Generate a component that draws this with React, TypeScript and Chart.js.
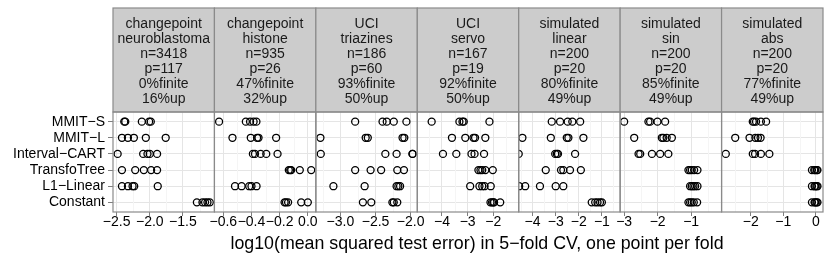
import { useEffect, useRef } from 'react';
import { Chart, registerables } from 'chart.js';

Chart.register(...registerables);

const FONT = '"Liberation Sans", Arial, Helvetica, sans-serif';

// Categories (rows, top to bottom)
const methods = ['MMIT−S', 'MMIT−L', 'Interval−CART', 'TransfoTree', 'L1−Linear', 'Constant'];

// Facet strip info
const stripSource = ['changepoint', 'changepoint', 'UCI', 'UCI', 'simulated', 'simulated', 'simulated'];
const stripName = ['neuroblastoma', 'histone', 'triazines', 'servo', 'linear', 'sin', 'abs'];
const nObs = [3418, 935, 186, 167, 200, 200, 200];
const nFeat = [117, 26, 60, 19, 20, 20, 20];
const pctFinite = [0, 47, 93, 92, 80, 85, 77];
const pctUp = [16, 32, 50, 50, 49, 49, 49];

// log10(MSE) per fold, one row per method
const neuroblastoma = [
  [-2.385, -2.37, -2.12, -2.01, -1.985],
  [-2.42, -2.33, -2.24, -2.06, -1.76],
  [-2.485, -2.1, -2.035, -2.0, -1.89],
  [-2.42, -2.22, -2.09, -1.98, -1.89],
  [-2.42, -2.33, -2.26, -2.235, -1.88],
  [-1.29, -1.206, -1.166, -1.13, -1.095],
];
const histone = [
  [-0.63, -0.44, -0.41, -0.385, -0.365],
  [-0.535, -0.405, -0.36, -0.35, -0.225],
  [-0.39, -0.375, -0.335, -0.295, -0.215],
  [-0.135, -0.125, -0.118, -0.057, 0.024],
  [-0.517, -0.47, -0.416, -0.4, -0.364],
  [-0.165, -0.155, -0.14, -0.047, 0.0],
];
const triazines = [
  [-2.79, -2.4, -2.34, -2.24, -2.06],
  [-3.285, -2.64, -2.61, -2.115, -2.09],
  [-3.28, -2.36, -2.2, -1.975, -1.97],
  [-2.79, -2.57, -2.42, -2.19, -2.095],
  [-3.1, -2.655, -2.2, -2.175, -2.15],
  [-2.68, -2.56, -2.26, -2.24, -2.19],
];
const servo = [
  [-4.4, -3.32, -3.2, -3.15, -2.15],
  [-3.61, -3.09, -2.77, -2.71, -2.31],
  [-3.96, -3.44, -2.85, -2.73, -2.36],
  [-2.58, -2.5, -2.43, -2.31, -2.02],
  [-2.9, -2.54, -2.43, -2.34, -2.1],
  [-2.11, -2.05, -2.0, -1.97, -1.73],
];
const linear = [
  [-3.17, -2.81, -2.48, -2.28, -1.94],
  [-4.44, -3.21, -2.52, -2.45, -1.8],
  [-4.6, -3.02, -2.95, -2.9, -2.16],
  [-3.43, -2.77, -2.67, -2.38, -1.91],
  [-4.58, -4.32, -3.68, -3.0, -2.67],
  [-1.44, -1.29, -1.19, -1.08, -1.0],
];
const sin = [
  [-3.0, -2.275, -2.224, -2.006, -1.776],
  [-2.7, -1.875, -1.83, -1.73, -1.575],
  [-2.57, -2.52, -2.17, -1.925, -1.68],
  [-1.08, -1.03, -0.98, -0.91, -0.81],
  [-1.03, -0.98, -0.93, -0.88, -0.81],
  [-1.08, -1.03, -0.98, -0.92, -0.82],
];
const abs = [
  [-1.94, -1.9, -1.84, -1.69, -1.53],
  [-2.48, -2.04, -1.86, -1.78, -1.7],
  [-2.77, -1.94, -1.87, -1.69, -1.43],
  [-0.12, -0.05, -0.02, 0.03, 0.05],
  [-0.12, -0.04, -0.02, 0.02, 0.05],
  [-0.12, -0.04, -0.02, 0.02, 0.05],
];

const panelData = [neuroblastoma, histone, triazines, servo, linear, sin, abs];

// Per-panel x axis limits and ticks
const xMin = [-2.555, -0.663, -3.35, -4.96, -4.6, -3.12, -2.9];
const xMax = [-1.025, 0.057, -1.905, -1.01, -0.21, -0.09, 0.22];
const xTicks = [
  [-2.5, -2.0, -1.5],
  [-0.6, -0.4, -0.2, 0.0],
  [-3.0, -2.5, -2.0],
  [-4, -3, -2],
  [-4, -3, -2, -1],
  [-3, -2, -1],
  [-2, -1, 0],
];
const xTickLabels = [
  ['−2.5', '−2.0', '−1.5'],
  ['−0.6', '−0.4', '−0.2', '0.0'],
  ['−3.0', '−2.5', '−2.0'],
  ['−4', '−3', '−2'],
  ['−4', '−3', '−2', '−1'],
  ['−3', '−2', '−1'],
  ['−2', '−1', '0'],
];

const xTitle = 'log10(mean squared test error) in 5−fold CV, one point per fold';

const facetPlugin = {
  id: 'facets',
  beforeDatasetsDraw(chart: any) {
    const { ctx, chartArea } = chart;
    ctx.save();
    ctx.strokeStyle = '#F5F5F5';
    ctx.lineWidth = 1;
    panelData.forEach((_, i) => {
      const sc = chart.scales['x' + i];
      const t = xTicks[i];
      const step = t[1] - t[0];
      const minors: number[] = [];
      for (let k = -1; k < t.length; k++) minors.push(t[0] + step * (k + 0.5));
      minors.forEach((v) => {
        if (v <= xMin[i] || v >= xMax[i]) return;
        const px = Math.round(sc.getPixelForValue(v)) + 0.5;
        ctx.beginPath();
        ctx.moveTo(px, chartArea.top);
        ctx.lineTo(px, chartArea.bottom);
        ctx.stroke();
      });
    });
    ctx.restore();
  },
  beforeDatasetDraw(chart: any, args: any) {
    const { ctx, chartArea } = chart;
    const xs = args.meta.xScale;
    ctx.save();
    ctx.beginPath();
    ctx.rect(xs.left, chartArea.top, xs.width, chartArea.bottom - chartArea.top);
    ctx.clip();
  },
  afterDatasetDraw(chart: any) {
    chart.ctx.restore();
  },
  afterDraw(chart: any) {
    const { ctx, chartArea } = chart;
    ctx.save();
    const stripTop = 8;
    panelData.forEach((_, i) => {
      const sc = chart.scales['x' + i];
      const l = sc.left;
      const w = sc.width;
      // strip
      ctx.fillStyle = '#CCCCCC';
      ctx.fillRect(l, stripTop, w, chartArea.top - stripTop);
      ctx.strokeStyle = '#8A8A8A';
      ctx.lineWidth = 1.2;
      ctx.strokeRect(l, stripTop, w, chartArea.top - stripTop);
      // panel border
      ctx.strokeRect(l, chartArea.top, w, chartArea.bottom - chartArea.top);
      // strip text
      ctx.fillStyle = '#1A1A1A';
      ctx.font = '14px ' + FONT;
      ctx.textAlign = 'center';
      ctx.textBaseline = 'middle';
      const lines = [
        stripSource[i],
        stripName[i],
        'n=' + nObs[i],
        'p=' + nFeat[i],
        pctFinite[i] + '%finite',
        pctUp[i] + '%up',
      ];
      const cx = l + w / 2;
      lines.forEach((s, k) => ctx.fillText(s, cx, 24 + k * 15));
    });
    // axis title
    ctx.fillStyle = '#000';
    ctx.font = '17.8px ' + FONT;
    ctx.textAlign = 'center';
    ctx.textBaseline = 'middle';
    ctx.fillText(xTitle, 477, 244);
    ctx.restore();
  },
};

export default function App() {
  const ref = useRef<HTMLCanvasElement | null>(null);

  useEffect(() => {
    if (!ref.current) return;
    const scales: any = {
      y: {
        type: 'linear',
        position: 'left',
        min: 0.4,
        max: 6.6,
        reverse: true,
        afterBuildTicks: (s: any) => {
          s.ticks = methods.map((_, k) => ({ value: k + 1 }));
        },
        afterFit: (s: any) => {
          s.width = 113;
          s.paddingTop = 0;
          s.paddingBottom = 0;
        },
        ticks: {
          callback: (v: any) => methods[Math.round(v) - 1],
          font: { size: 14, family: FONT },
          color: '#000',
          padding: 3,
          autoSkip: false,
        },
        grid: { color: '#E5E5E5', tickColor: '#7F7F7F', tickLength: 5, lineWidth: 1 },
        border: { display: false },
      },
    };
    panelData.forEach((_, i) => {
      scales['x' + i] = {
        type: 'linear',
        position: 'bottom',
        stack: 'panels',
        stackWeight: 1,
        min: xMin[i],
        max: xMax[i],
        afterBuildTicks: (s: any) => {
          s.ticks = xTicks[i].map((v) => ({ value: v }));
        },
        afterFit: (s: any) => {
          s.height = 51;
          s.paddingLeft = 0;
          s.paddingRight = 0;
        },
        ticks: {
          callback: (_v: any, idx: number) => xTickLabels[i][idx],
          font: { size: 14, family: FONT },
          color: '#000',
          padding: -2,
          autoSkip: false,
          maxRotation: 0,
          minRotation: 0,
        },
        grid: { color: '#E5E5E5', tickColor: '#7F7F7F', tickLength: 4, lineWidth: 1 },
        border: { display: false },
      };
    });

    const datasets = panelData.map((rows, i) => ({
      label: stripName[i],
      xAxisID: 'x' + i,
      yAxisID: 'y',
      data: rows.flatMap((vals, r) => vals.map((v) => ({ x: v, y: r + 1 }))),
      pointStyle: 'circle',
      pointRadius: 3.5,
      pointBorderWidth: 1.3,
      pointBorderColor: '#000',
      pointBackgroundColor: 'rgba(0,0,0,0)',
      showLine: false,
      clip: false,
    }));

    const chart = new Chart(ref.current, {
      type: 'scatter',
      data: { datasets } as any,
      options: {
        responsive: false,
        animation: false,
        devicePixelRatio: 1,
        layout: { padding: { top: 112, right: 7, bottom: 0, left: 0 } },
        plugins: { legend: { display: false }, tooltip: { enabled: false } },
        scales,
      } as any,
      plugins: [facetPlugin],
    });
    return () => chart.destroy();
  }, []);

  return (
    <div style={{ position: 'absolute', left: 0, top: 0, width: 830, height: 263, background: '#fff' }}>
      <canvas ref={ref} width={830} height={263} style={{ display: 'block' }} />
    </div>
  );
}
